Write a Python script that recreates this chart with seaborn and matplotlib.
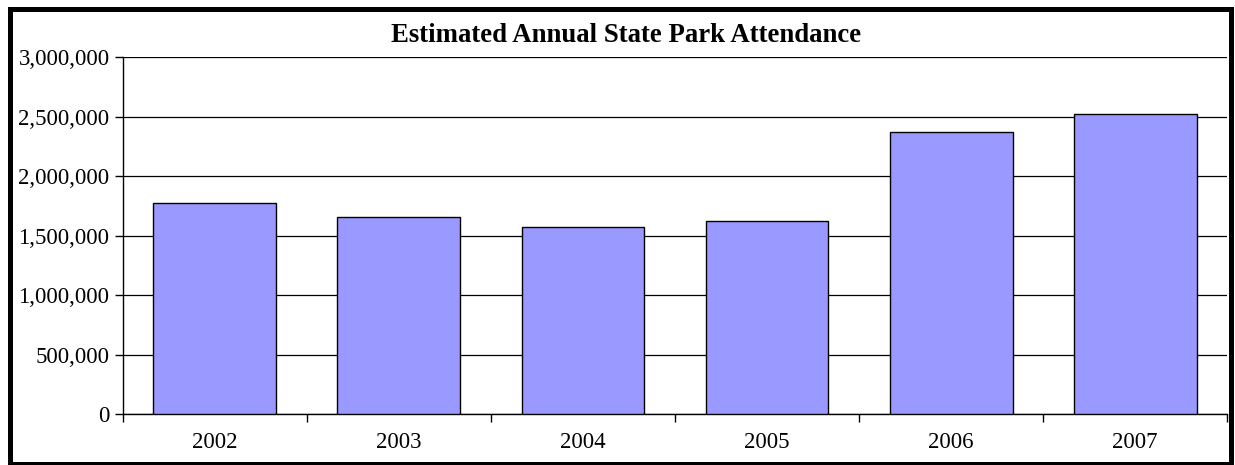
import matplotlib
matplotlib.use("Agg")
import matplotlib.pyplot as plt
import matplotlib.ticker as mticker
from matplotlib.patches import Rectangle
import seaborn as sns
import pandas as pd

years = ["2002", "2003", "2004", "2005", "2006", "2007"]
attendance = [1777000, 1657000, 1575000, 1621000, 2374000, 2523000]
y_ticks = [0, 500000, 1000000, 1500000, 2000000, 2500000, 3000000]
title = "Estimated Annual State Park Attendance"

sns.set_theme(style="white")
plt.rcParams["font.family"] = ["Liberation Serif", "DejaVu Serif"]

df = pd.DataFrame({"year": years, "attendance": attendance})

W, H = 1235, 465
fig = plt.figure(figsize=(W / 100, H / 100), dpi=100)
ax = fig.add_axes([122.7 / W, 1 - 414 / H, (1227.3 - 122.7) / W, (414 - 57.3) / H])

sns.barplot(data=df, x="year", y="attendance", color="#9999FF", saturation=1,
            width=0.667, edgecolor="black", linewidth=1.0, ax=ax, zorder=3)

ax.set_ylim(0, 3000000)
ax.set_xlim(-0.5, len(years) - 0.5)
ax.set_yticks(y_ticks)
ax.yaxis.set_major_formatter(mticker.FuncFormatter(lambda v, p: f"{int(v):,}"))
ax.yaxis.grid(True, color="black", linewidth=0.9, zorder=0)
ax.set_axisbelow(True)

ax.set_xlabel("")
ax.set_ylabel("")

for side in ["top", "right"]:
    ax.spines[side].set_visible(False)
for side in ["left", "bottom"]:
    ax.spines[side].set_visible(True)
    ax.spines[side].set_color("black")
    ax.spines[side].set_linewidth(1.0)

ax.tick_params(axis="y", which="major", length=6, width=1, color="black",
               direction="out", left=True, labelsize=16.5, pad=3.5, labelcolor="black")
ax.tick_params(axis="x", which="major", length=0, labelsize=16.5, pad=13, labelcolor="black")
ax.set_xticks([i - 0.5 for i in range(len(years) + 1)], minor=True)
ax.tick_params(axis="x", which="minor", length=6, width=1, color="black",
               direction="out", bottom=True)

fig.text(626 / W, 1 - 36 / H, title, ha="center", va="center", fontsize=19.3,
         fontweight="bold", color="black")

# outer frame around the whole chart
fig.patches.append(Rectangle((10 / W, 1.5 / H), 1221 / W, (455.5 - 1.5) / H,
                             transform=fig.transFigure, fill=False,
                             edgecolor="black", linewidth=3.6, zorder=10))

fig.savefig("out.png", dpi=100, facecolor="white")
